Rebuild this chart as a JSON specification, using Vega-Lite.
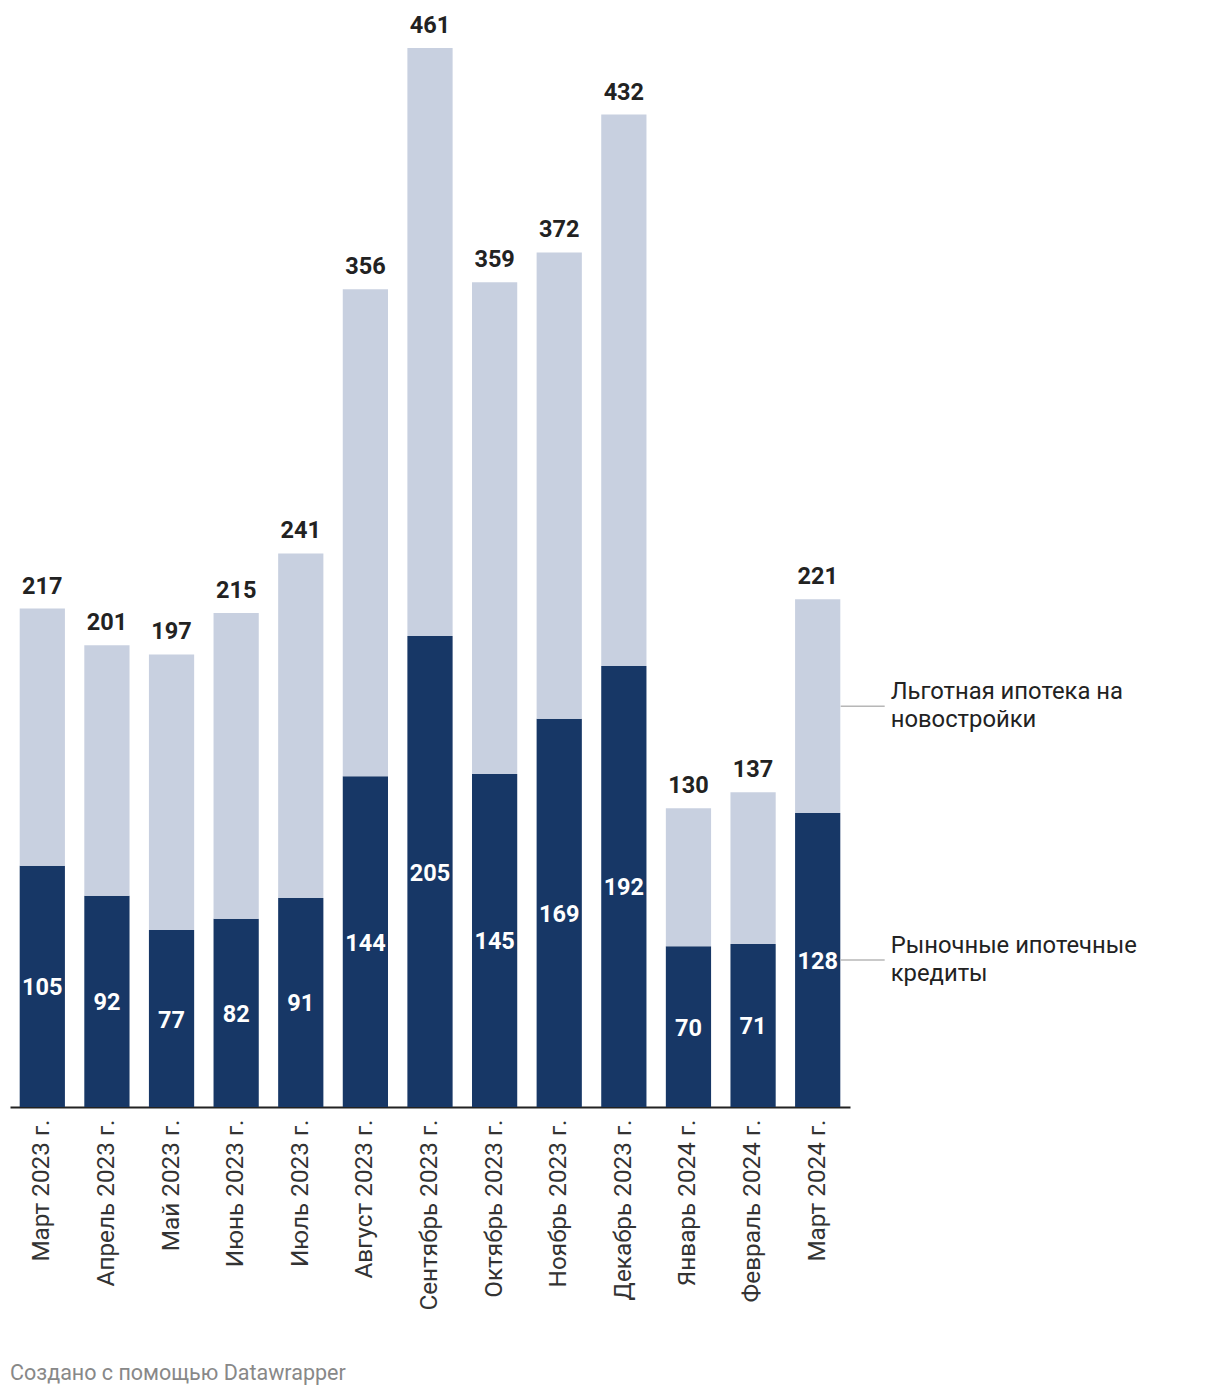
{
  "$schema": "https://vega.github.io/schema/vega-lite/v6.json",
  "width": 840,
  "height": 1059,
  "autosize": {"type": "none"},
  "padding": {"left": 10, "top": 48, "right": 370, "bottom": 287},
  "background": "white",
  "title": {
    "text": "Создано с помощью Datawrapper",
    "orient": "bottom",
    "anchor": "start",
    "frame": "group",
    "offset": 53,
    "font": "Roboto",
    "fontSize": 21.5,
    "fontWeight": "normal",
    "color": "#888888",
    "baseline": "top"
  },
  "config": {
    "view": {"stroke": null},
    "font": "Roboto"
  },
  "datasets": {
    "legend": [
      {"type": "Рыночные ипотечные кредиты", "label": "Рыночные ипотечные\nкредиты"},
      {"type": "Льготная ипотека на новостройки", "label": "Льготная ипотека на\nновостройки"}
    ]
  },
  "data": {
    "values": [
      {"month": "Март 2023 г.", "type": "Рыночные ипотечные кредиты", "value": 105},
      {"month": "Март 2023 г.", "type": "Льготная ипотека на новостройки", "value": 112},
      {"month": "Апрель 2023 г.", "type": "Рыночные ипотечные кредиты", "value": 92},
      {"month": "Апрель 2023 г.", "type": "Льготная ипотека на новостройки", "value": 109},
      {"month": "Май 2023 г.", "type": "Рыночные ипотечные кредиты", "value": 77},
      {"month": "Май 2023 г.", "type": "Льготная ипотека на новостройки", "value": 120},
      {"month": "Июнь 2023 г.", "type": "Рыночные ипотечные кредиты", "value": 82},
      {"month": "Июнь 2023 г.", "type": "Льготная ипотека на новостройки", "value": 133},
      {"month": "Июль 2023 г.", "type": "Рыночные ипотечные кредиты", "value": 91},
      {"month": "Июль 2023 г.", "type": "Льготная ипотека на новостройки", "value": 150},
      {"month": "Август 2023 г.", "type": "Рыночные ипотечные кредиты", "value": 144},
      {"month": "Август 2023 г.", "type": "Льготная ипотека на новостройки", "value": 212},
      {"month": "Сентябрь 2023 г.", "type": "Рыночные ипотечные кредиты", "value": 205},
      {"month": "Сентябрь 2023 г.", "type": "Льготная ипотека на новостройки", "value": 256},
      {"month": "Октябрь 2023 г.", "type": "Рыночные ипотечные кредиты", "value": 145},
      {"month": "Октябрь 2023 г.", "type": "Льготная ипотека на новостройки", "value": 214},
      {"month": "Ноябрь 2023 г.", "type": "Рыночные ипотечные кредиты", "value": 169},
      {"month": "Ноябрь 2023 г.", "type": "Льготная ипотека на новостройки", "value": 203},
      {"month": "Декабрь 2023 г.", "type": "Рыночные ипотечные кредиты", "value": 192},
      {"month": "Декабрь 2023 г.", "type": "Льготная ипотека на новостройки", "value": 240},
      {"month": "Январь 2024 г.", "type": "Рыночные ипотечные кредиты", "value": 70},
      {"month": "Январь 2024 г.", "type": "Льготная ипотека на новостройки", "value": 60},
      {"month": "Февраль 2024 г.", "type": "Рыночные ипотечные кредиты", "value": 71},
      {"month": "Февраль 2024 г.", "type": "Льготная ипотека на новостройки", "value": 66},
      {"month": "Март 2024 г.", "type": "Рыночные ипотечные кредиты", "value": 128},
      {"month": "Март 2024 г.", "type": "Льготная ипотека на новостройки", "value": 93}
    ]
  },
  "transform": [
    {"lookup": "type", "from": {"data": {"name": "legend"}, "key": "type", "fields": ["label"]}},
    {"calculate": "datum.type === 'Рыночные ипотечные кредиты' ? 0 : 1", "as": "ord"}
  ],
  "encoding": {
    "x": {
      "field": "month",
      "type": "nominal",
      "sort": null,
      "scale": {"paddingInner": 0.3, "paddingOuter": 0.15},
      "axis": {
        "title": null,
        "labelAngle": 270,
        "labelFontSize": 24.3,
        "labelColor": "#333333",
        "labelFont": "Roboto",
        "labelPadding": 12,
        "ticks": false,
        "domainColor": "#222222",
        "domainWidth": 2,
        "labelLimit": 400
      }
    }
  },
  "layer": [
    {
      "mark": {"type": "bar"},
      "encoding": {
        "y": {"field": "value", "type": "quantitative", "stack": "zero", "scale": {"domain": [0, 461], "nice": false, "zero": true}, "axis": null},
        "color": {
          "field": "type",
          "type": "nominal",
          "scale": {
            "domain": ["Рыночные ипотечные кредиты", "Льготная ипотека на новостройки"],
            "range": ["#173766", "#c8d0e0"]
          },
          "legend": null
        },
        "order": {"field": "ord", "type": "quantitative"}
      }
    },
    {
      "transform": [{"filter": "datum.type === 'Рыночные ипотечные кредиты'"}],
      "mark": {"type": "text", "color": "white", "fontSize": 23.5, "fontWeight": "bold", "baseline": "middle", "align": "center", "dy": 2},
      "encoding": {
        "y": {"field": "value", "type": "quantitative", "stack": "zero", "bandPosition": 0.5},
        "text": {"field": "value", "type": "quantitative"}
      }
    },
    {
      "mark": {"type": "text", "color": "#222222", "fontSize": 23.5, "fontWeight": "bold", "baseline": "alphabetic", "align": "center", "dy": -15},
      "encoding": {
        "y": {"aggregate": "sum", "field": "value", "type": "quantitative"},
        "text": {"aggregate": "sum", "field": "value", "type": "quantitative"}
      }
    },
    {
      "transform": [{"filter": "datum.month === 'Март 2024 г.'"}],
      "mark": {"type": "tick", "orient": "horizontal", "size": 44, "thickness": 1.5, "color": "#999999", "xOffset": 45},
      "encoding": {
        "y": {"field": "value", "type": "quantitative", "stack": "zero", "bandPosition": 0.5},
        "order": {"field": "ord", "type": "quantitative"}
      }
    },
    {
      "transform": [{"filter": "datum.month === 'Март 2024 г.'"}],
      "mark": {"type": "text", "color": "#222222", "fontSize": 23.8, "align": "left", "baseline": "middle", "dx": 73, "dy": -14, "lineBreak": "\n", "lineHeight": 28},
      "encoding": {
        "y": {"field": "value", "type": "quantitative", "stack": "zero", "bandPosition": 0.5},
        "order": {"field": "ord", "type": "quantitative"},
        "text": {"field": "label", "type": "nominal"}
      }
    }
  ]
}
